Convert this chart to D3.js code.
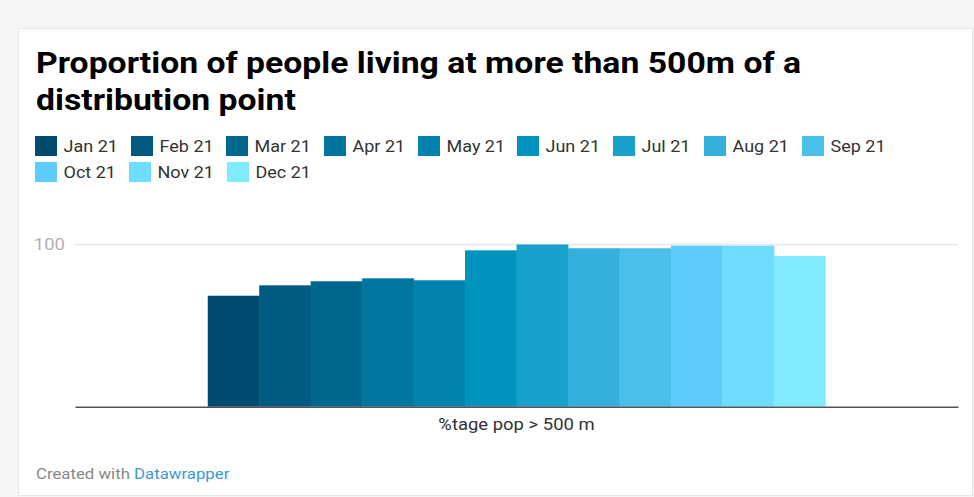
<!DOCTYPE html>
<html><head><meta charset="utf-8">
<script src="https://cdn.jsdelivr.net/npm/d3@7"></script>
<style>
html,body{margin:0;padding:0;background:#f5f5f5;}
svg{display:block;font-family:Roboto,sans-serif;}
</style></head>
<body>
<svg id="chart" width="974" height="497"></svg>
<script>
const categories = ["%tage pop > 500 m"];
const seriesNames = ["Jan 21","Feb 21","Mar 21","Apr 21","May 21","Jun 21","Jul 21","Aug 21","Sep 21","Oct 21","Nov 21","Dec 21"];
const seriesValues = [68.2, 74.6, 77.1, 78.9, 77.7, 96.1, 99.7, 97.4, 97.4, 99.0, 99.0, 92.6];
const seriesColors = ["#004c70","#015a82","#00688f","#00769f","#0084ae","#0093bd","#19a1cd","#35b0dc","#4abfea","#5ccdfa","#6edcff","#80eaff"];
const yTicks = [100];
const titleLines = ["Proportion of people living at more than 500m of a","distribution point"];

const svg = d3.select("#chart");
const SX = 1.12; // horizontal text stretch seen in the reference

// card
svg.append("rect").attr("x",18.5).attr("y",28.5).attr("width",954).attr("height",467)
  .attr("fill","#fff").attr("stroke","#e6e6e6");

// title
titleLines.forEach((t,i)=>{
  svg.append("text").attr("transform",`translate(36,${73+i*37}) scale(1.125,1)`)
    .attr("font-size",30).attr("font-weight",700).attr("fill","#000").text(t);
});

// legend
const legendRows = [[0,1,2,3,4,5,6,7,8],[9,10,11]];
const legendX = [[35,131,226,324,418,517,613,704,802],[35,129,227]];
legendRows.forEach((row,ri)=>{
  row.forEach((si,k)=>{
    const g = svg.append("g").attr("transform",`translate(${legendX[ri][k]},${136+ri*26})`);
    g.append("rect").attr("width",22).attr("height",20).attr("fill",seriesColors[si]);
    g.append("text").attr("transform","translate(28.5,16) scale(1.06,1)")
      .attr("font-size",17).attr("fill","#333").text(seriesNames[si]);
  });
});

// plot
const plot = {left:75,right:958,top:244,bottom:406.7};
const y = d3.scaleLinear().domain([0,100]).range([plot.bottom,plot.top]);
const x0 = d3.scaleBand().domain(categories).range([plot.left,plot.right]).paddingInner(0).paddingOuter(0.215);
const x1 = d3.scaleBand().domain(seriesNames).range([0,x0.bandwidth()]).padding(0);

// grid
const yAxis = d3.axisLeft(y).tickValues(yTicks).tickSize(-(plot.right-plot.left)).tickPadding(10);
const gy = svg.append("g").attr("transform",`translate(${plot.left},0)`).call(yAxis);
gy.select(".domain").remove();
gy.selectAll(".tick line").attr("stroke","#e8e8e8").attr("stroke-width",1.5);
gy.selectAll(".tick text").attr("font-size",16.5).attr("fill","#b0b0b0").attr("x",-9)
  .attr("font-family","Roboto,sans-serif").attr("transform",`scale(${SX},1)`);

// bars
const g = svg.append("g");
categories.forEach(c=>{
  g.selectAll("rect.bar").data(seriesNames).enter().append("rect").attr("class","bar")
    .attr("x",d=>x0(c)+x1(d)).attr("width",x1.bandwidth()+0.5)
    .attr("y",(d,i)=>y(seriesValues[i])).attr("height",(d,i)=>plot.bottom-y(seriesValues[i]))
    .attr("fill",(d,i)=>seriesColors[i]);
});

// x axis
const xAxis = d3.axisBottom(x0).tickSize(0).tickPadding(12);
const gx = svg.append("g").attr("transform",`translate(0,${plot.bottom})`).call(xAxis);
gx.select(".domain").attr("stroke","#555").attr("stroke-width",1.5);
gx.selectAll(".tick text").attr("font-size",16.5).attr("fill","#333")
  .attr("font-family","Roboto,sans-serif").attr("transform",`scale(${SX},1)`);

// footer
const f = svg.append("text").attr("transform",`translate(36,479) scale(${SX},1)`).attr("font-size",15);
f.append("tspan").attr("fill","#888").text("Created with ");
f.append("tspan").attr("fill","#3a9bd2").text("Datawrapper");
</script>
</body></html>
